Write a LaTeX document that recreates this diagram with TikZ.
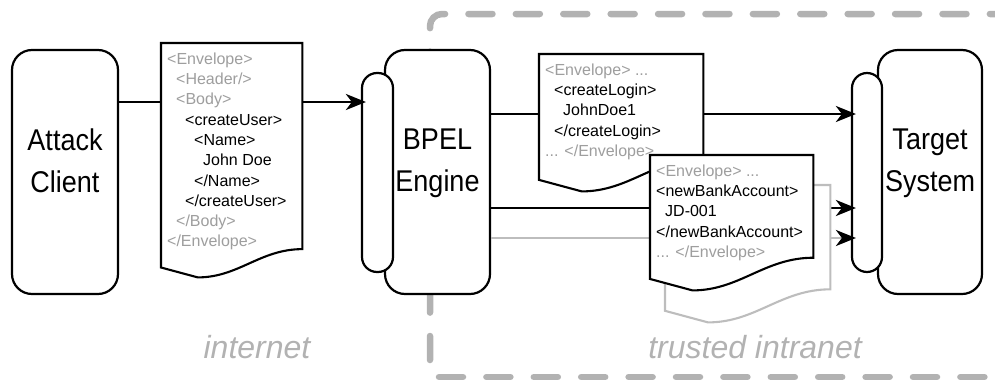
\documentclass[tikz,border=0pt]{standalone}
\usepackage{fontspec}
\setmainfont{Liberation Sans}
\newfontfamily\boxfont[FakeStretch=0.9]{Liberation Sans}
\usetikzlibrary{arrows.meta,calc}

\definecolor{taggray}{gray}{0.62}
\definecolor{zonegray}{gray}{0.70}
\definecolor{copygray}{gray}{0.74}

% grey envelope tags inside the messages
\newcommand{\soap}[1]{\textcolor{taggray}{#1}}

% sheet of paper with a wavy lower edge round a blank node
\newcommand{\msgpaper}[2][black]{%
  \draw[paperline, draw=#1]
    let \p1=(#2.south west), \p2=(#2.north east), \n1={\x2-\x1} in
    (\x1,\y2) -- (\x2,\y2) -- (\x2,\y1+0.2*\n1)
    .. controls (\x2-0.3*\n1,\y1+0.2*\n1) and (\x1+0.55*\n1,\y1) .. (\x1+0.26*\n1,\y1)
    -- (\x1,\y1+0.07*\n1) -- cycle;}

\begin{document}
\begin{tikzpicture}[
    x=1pt, y=1pt,
    box/.style={draw, line width=2.2pt, rounded corners=20pt, fill=white, minimum height=244pt, inner sep=0pt},
    port/.style={draw, line width=2.2pt, rounded corners=15pt, fill=white, minimum width=31pt, minimum height=199pt, inner sep=0pt},
    boxtext/.style={font=\boxfont\fontsize{30}{42}\selectfont, align=center, inner sep=0pt, anchor=north, yshift=-80pt},
    paper/.style={draw=none, anchor=north west, inner sep=0pt},
    paperline/.style={line width=2.1pt, fill=white, line join=miter},
    papertext/.style={anchor=north west, align=left, inner xsep=6pt, inner ysep=9.5pt, font=\fontsize{16}{20.3}\selectfont},
    wire/.style={line width=2.9pt},
    arr/.style={wire, -{Stealth[length=20pt, width=16pt, inset=6pt]}, shorten >=-5pt},
    copywire/.style={line width=2.4pt, draw=copygray},
    copyarr/.style={copywire, -{Stealth[length=20pt, width=16pt, inset=6pt, color=black]}, shorten >=-5pt},
    zone/.style={draw=zonegray, line width=6.5pt, line cap=round, dash pattern=on 24pt off 23.4pt},
    zonetext/.style={font=\itshape\fontsize{32}{38}\selectfont, text=zonegray, anchor=base, inner sep=0pt}
]
\useasboundingbox (0,0) rectangle (995,-383);

% trusted zone
\draw[zone, rounded corners=12pt] (430,-360) -- (430,-14) -- (1015,-14);
\draw[zone] (439,-377) -- (1015,-377);

% client, engine and target with their ports
\node[box, minimum width=106pt, label={[boxtext]north:{Attack\\Client}}] (client) at (65,-172) {};
\node[box, minimum width=105pt, label={[boxtext]north:{BPEL\\Engine}}] (engine) at (437.5,-172) {};
\node[port] (engineport) at (377.5,-172.5) {};
\node[box, minimum width=104pt, label={[boxtext]north:{Target\\System}}] (target) at (930,-172) {};
\node[port, minimum width=30pt] (targetport) at (867,-172.5) {};

% messages
\node[paper, minimum width=141pt, minimum height=234pt] (request) at (161,-43) {};
\node[paper, minimum width=164pt, minimum height=137pt] (login) at (539,-54) {};
\node[paper, minimum width=165pt, minimum height=137pt] (copy) at (665,-185) {};
\node[paper, minimum width=163pt, minimum height=135pt] (account) at (650,-155) {};

\coordinate (lane1) at (0,-102);
\coordinate (lane2) at (0,-114);
\coordinate (lane3) at (0,-208);
\coordinate (lane4) at (0,-238);

\draw[wire] (client.east |- lane1) -- (request.west |- lane1);
\draw[arr] (request.east |- lane1) -- (engineport.west |- lane1);
\draw[wire] (engine.east |- lane2) -- (login.west |- lane2);
\draw[arr] (login.east |- lane2) -- (targetport.west |- lane2);
\draw[wire] (engine.east |- lane3) -- (account.west |- lane3);
\draw[arr] (account.east |- lane3) -- (targetport.west |- lane3);
\draw[copywire] (engine.east |- lane4) -- (copy.west |- lane4);
\draw[copyarr] (copy.east |- lane4) -- (targetport.west |- lane4);

\msgpaper[copygray]{copy}
\msgpaper{request}
\msgpaper{login}
\msgpaper{account}

\node[papertext] (requesttext) at (request.north west) {%
  \soap{<Envelope>}\\
  \hspace*{9pt}\soap{<Header/>}\\
  \hspace*{9pt}\soap{<Body>}\\
  \hspace*{18pt}<createUser>\\
  \hspace*{27pt}<Name>\\
  \hspace*{36pt}John Doe\\
  \hspace*{27pt}</Name>\\
  \hspace*{18pt}</createUser>\\
  \hspace*{9pt}\soap{</Body>}\\
  \soap{</Envelope>}};
\node[papertext] (logintext) at (login.north west) {%
  \soap{<Envelope> ...}\\
  \hspace*{9pt}<createLogin>\\
  \hspace*{18pt}JohnDoe1\\
  \hspace*{9pt}</createLogin>\\
  \soap{... </Envelope>}};
\node[papertext] (accounttext) at (account.north west) {%
  \soap{<Envelope> ...}\\
  <newBankAccount>\\
  \hspace*{9pt}JD-001\\
  </newBankAccount>\\
  \soap{... </Envelope>}};

\node[zonetext] (outside) at (257,-358) {internet};
\node[zonetext] (inside) at (755,-358) {trusted intranet};
\end{tikzpicture}
\end{document}
